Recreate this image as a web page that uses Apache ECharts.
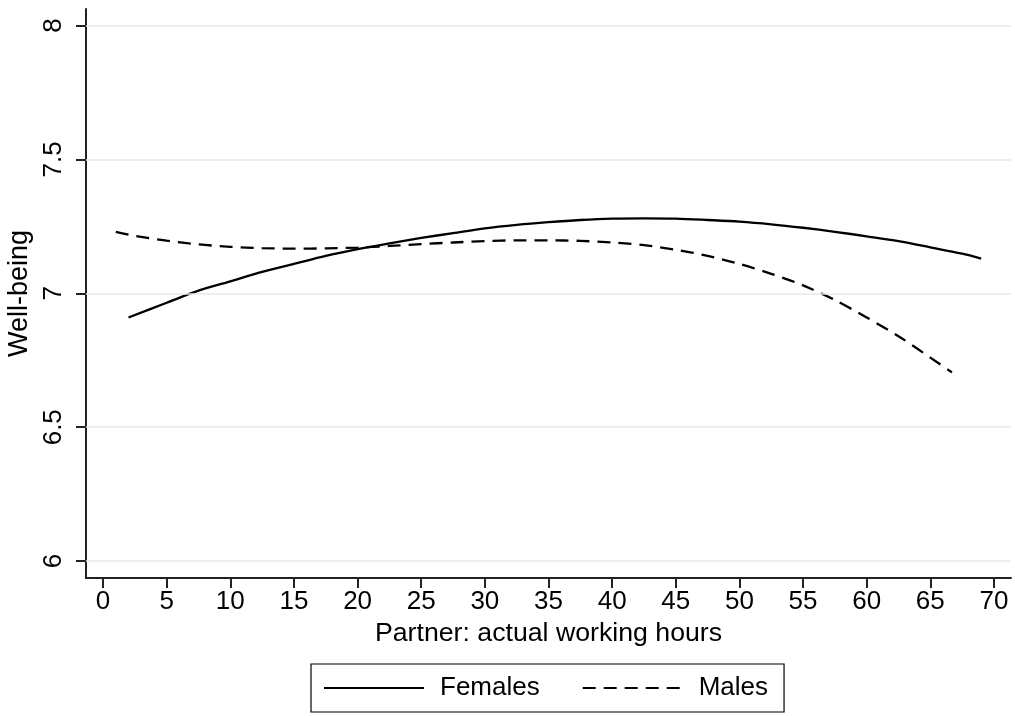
<!DOCTYPE html>
<html>
<head>
<meta charset="utf-8">
<script src="https://cdn.jsdelivr.net/npm/echarts@6/dist/echarts.min.js"></script>
<style>
html,body{margin:0;padding:0;background:#fff;}
#chart{width:1015px;height:716px;}
</style>
</head>
<body>
<div id="chart"></div>
<script>
var xTicks = [0,5,10,15,20,25,30,35,40,45,50,55,60,65,70];
var yTicks = [6,6.5,7,7.5,8];

var femalesHours = [2,5,7.5,10,12.5,15,17.5,20,22.5,25,27.5,30,32.5,35,37.5,40,42.5,45,47.5,50,52.5,55,57.5,60,62.5,65,67.5,69];
var femalesWellbeing = [6.91,6.965,7.01,7.045,7.08,7.11,7.14,7.165,7.187,7.207,7.225,7.243,7.256,7.266,7.274,7.279,7.28,7.279,7.274,7.268,7.258,7.245,7.23,7.213,7.195,7.172,7.148,7.13];

var malesHours = [1,2.5,5,7.5,10,12.5,15,17.5,20,22.5,25,27.5,30,32.5,35,37.5,40,42.5,45,47.5,50,52.5,55,57.5,60,62.5,65,66.7];
var malesWellbeing = [7.23,7.215,7.197,7.183,7.174,7.169,7.167,7.168,7.171,7.177,7.184,7.19,7.195,7.198,7.198,7.196,7.19,7.18,7.163,7.14,7.11,7.073,7.03,6.975,6.91,6.84,6.76,6.705];

function pairs(xs, ys){ return xs.map(function(x,i){ return [x, ys[i]]; }); }

var FONT = 'Liberation Sans, Arial, Helvetica, sans-serif';
var chart = echarts.init(document.getElementById('chart'), null, {renderer:'canvas'});
chart.setOption({
  backgroundColor:'#fff',
  animation:false,
  grid:{left:86, right:4, top:9, bottom:138, containLabel:false, outerBoundsMode:'none'},
  xAxis:{
    type:'value', min:-1.34, max:71.34,
    name:'Partner: actual working hours', nameLocation:'middle', nameGap:41,
    nameTextStyle:{fontSize:26.7, color:'#000', fontFamily:FONT},
    axisLine:{show:true, onZero:false, lineStyle:{color:'#222', width:2}},
    axisTick:{show:true, length:10, lineStyle:{color:'#222', width:2}, customValues:xTicks},
    axisLabel:{fontSize:26, color:'#000', fontFamily:FONT, margin:11, customValues:xTicks},
    splitLine:{show:false}
  },
  yAxis:{
    type:'value', min:5.937, max:8.062,
    name:'Well-being', nameLocation:'middle', nameGap:48,
    nameTextStyle:{fontSize:27, color:'#000', fontFamily:FONT},
    axisLine:{show:true, onZero:false, lineStyle:{color:'#222', width:2}},
    axisTick:{show:true, length:10, lineStyle:{color:'#222', width:2}, customValues:yTicks},
    axisLabel:{fontSize:26, color:'#000', fontFamily:FONT, margin:19, rotate:90, customValues:yTicks},
    splitLine:{show:false}
  },
  legend:{
    left:311, top:664,
    data:['Females','Males'],
    itemWidth:100, itemHeight:14, itemGap:42,
    padding:[11,16,11,12],
    borderColor:'#000', borderWidth:1.2, borderRadius:0,
    itemStyle:{opacity:0},
    textStyle:{fontSize:26, color:'#000', fontFamily:FONT, padding:[0,0,0,11]}
  },
  series:[
    {
      type:'line', name:'grid', data:[], z:1, silent:true,
      markLine:{
        silent:true, symbol:'none', animation:false,
        label:{show:false},
        lineStyle:{color:'#e8e8e8', width:1.6, type:'solid'},
        data:yTicks.map(function(v){ return {yAxis:v}; })
      }
    },
    {
      type:'line', name:'Females', data:pairs(femalesHours, femalesWellbeing),
      showSymbol:false, symbol:'none', smooth:0.3, z:3,
      lineStyle:{color:'#000', width:2.3, type:'solid'}, itemStyle:{color:'#000'}
    },
    {
      type:'line', name:'Males', data:pairs(malesHours, malesWellbeing),
      showSymbol:false, symbol:'none', smooth:0.3, z:3,
      lineStyle:{color:'#000', width:2.3, type:[13,8]}, itemStyle:{color:'#000'}
    }
  ]
});
</script>
</body>
</html>
